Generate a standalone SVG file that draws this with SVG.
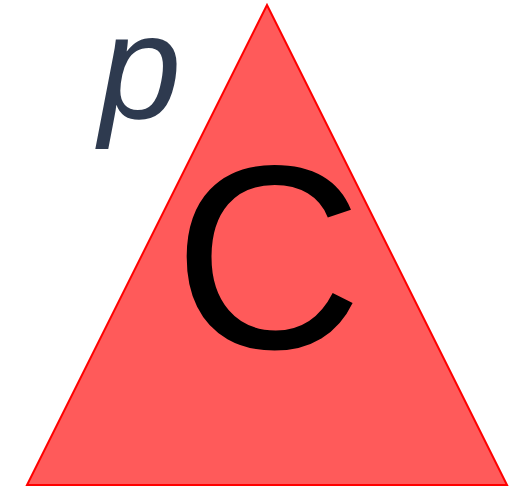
<svg xmlns="http://www.w3.org/2000/svg" width="521" height="486" viewBox="0 0 521 486">
<style>
.tri{fill:#FF5A5A;stroke:#FF0000;stroke-width:2}
.big{font-family:"Liberation Sans",Arial,sans-serif;font-size:262px;fill:#000}
.lbl{font-family:"Liberation Sans",Arial,sans-serif;font-size:148px;font-style:italic;fill:#2E3A4F}
</style>
<g id="triangle">
<polygon class="tri" points="267,5 27,485 507,485"/>
<text class="big" x="268" y="348" text-anchor="middle">C</text>
</g>
<g id="label">
<text class="lbl" x="99" y="118">p</text>
</g>
</svg>
